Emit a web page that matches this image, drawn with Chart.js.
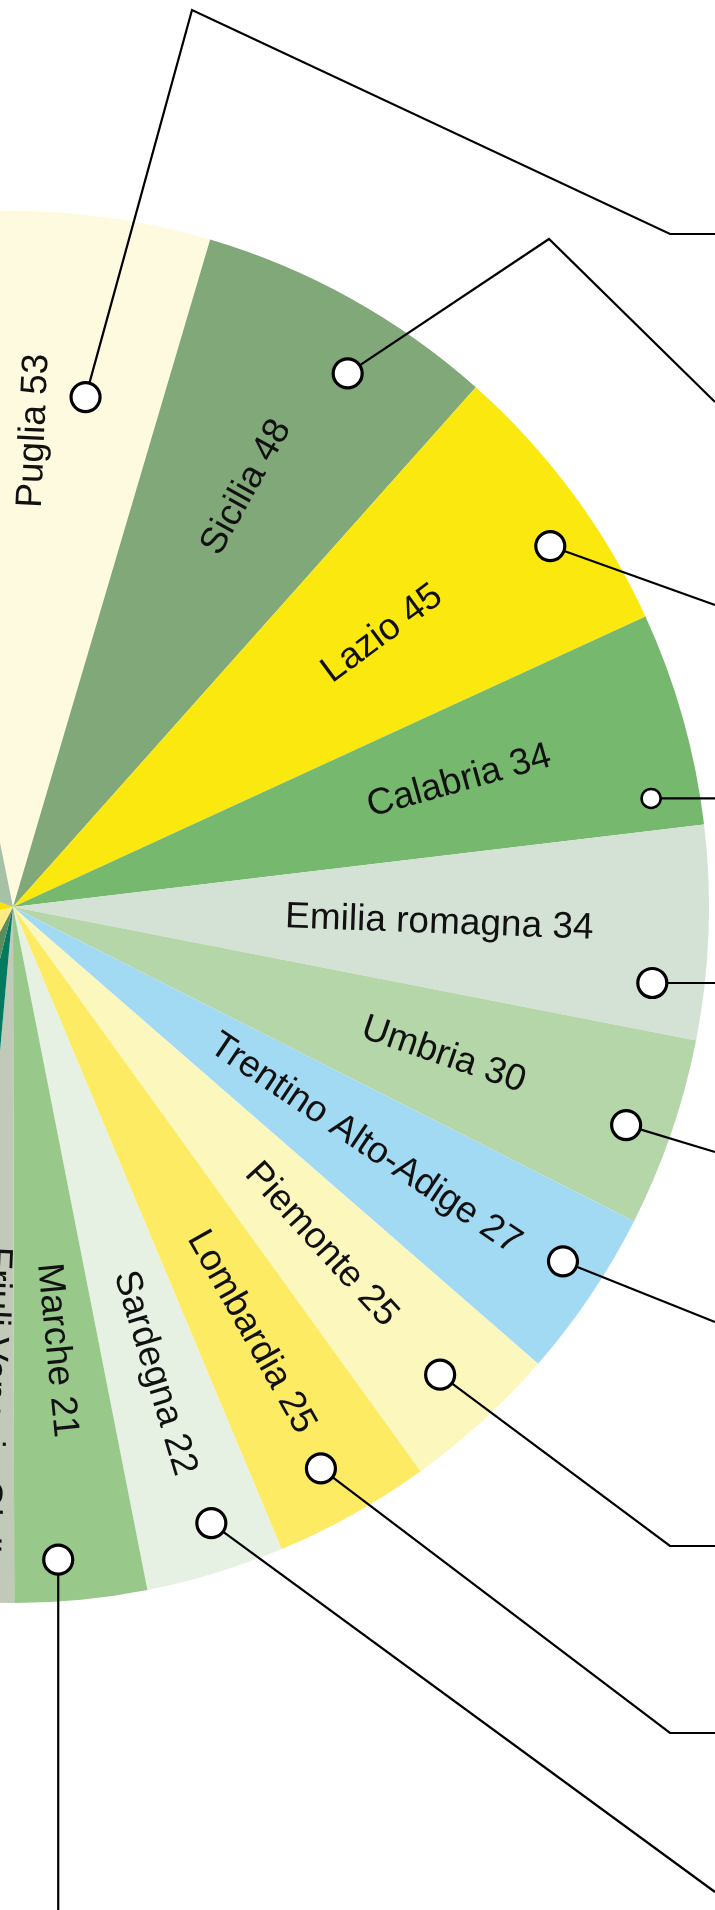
<!DOCTYPE html>
<html><head><meta charset="utf-8">
<script src="https://cdn.jsdelivr.net/npm/chart.js@4.4.0/dist/chart.umd.min.js"></script>
<style>
html,body{margin:0;padding:0;background:#fff;overflow:hidden;width:715px;height:1910px;}
#wrap{position:absolute;left:-894px;top:0;width:1814px;height:1910px;}
</style></head><body>
<div id="wrap"><canvas id="c" width="1814" height="1910"></canvas></div>
<script>
// ---- data ----
const regions = ["Puglia","Sicilia","Lazio","Calabria","Emilia romagna","Umbria","Trentino Alto-Adige","Piemonte","Lombardia","Sardegna","Marche","Friuli Venezia Giulia","","","","",""];
const values  = [53,48,45,34,34,30,27,25,25,22,21,10,17,26,94,63,111];
const colors  = ["#fefae0","#80a878","#fbe80f","#76b96e","#d4e1d5","#b5d6a9","#a3daf3","#fcf7bd","#fdeb63","#e6f0e3","#98c98b","#c1c9b9","#037a5f","#5b8c5c","#fdea85","#fce200","#a6c2a6"];

// ---- layout (annotation placement, not data) ----
const OFFSET_X = 894; // page -> canvas
const labelRadius = [0.685,0.69,0.66,0.666,0.613,0.654,0.61,0.657,0.70,0.70,0.64,0.76];
const leaderAnchor = [[0.70,0.74],[0.62,0.905],[0.61,0.93],[0.84,0.93],[0.76,0.925],[0.54,0.935],[0.42,0.94],[0.50,0.91],[0.54,0.92],[0.42,0.93],[0.65,0.94]];
const leaderRoute = [
  [[192,10],[670,234],[715,234]],
  [[549,239],[715,402]],
  [[715,605]],
  [[715,null]],
  [[715,null]],
  [[715,1152]],
  [[715,1322]],
  [[670,1546],[715,1546]],
  [[670,1733],[715,1733]],
  [[715,1892]],
  [[null,1910]]
];
const dotSize = [14.5,14.5,14.5,9.5,14.5,14.5,14.5,14.5,14.5,14.5,14.5];

const labelPlugin = {
  id:'labels',
  afterDatasetsDraw(chart){
    const ctx = chart.ctx;
    const meta = chart.getDatasetMeta(0);
    ctx.save();
    ctx.font = '37px "Liberation Sans", Arial, sans-serif';
    ctx.fillStyle = '#111';
    ctx.textAlign = 'center';
    ctx.textBaseline = 'middle';
    meta.data.forEach((arc,i)=>{
      if(!regions[i]) return;
      const p = arc.getProps(['x','y','startAngle','endAngle','outerRadius'], true);
      const mid = (p.startAngle+p.endAngle)/2;
      const r = p.outerRadius*labelRadius[i];
      ctx.save();
      ctx.translate(p.x+Math.cos(mid)*r, p.y+Math.sin(mid)*r);
      ctx.rotate(mid);
      ctx.fillText(regions[i]+' '+values[i],0,0);
      ctx.restore();
    });
    // leaders
    const dots = [];
    leaderRoute.forEach((route,i)=>{
      const arc = meta.data[i];
      const p = arc.getProps(['x','y','startAngle','endAngle','outerRadius'], true);
      const a = p.startAngle + leaderAnchor[i][0]*(p.endAngle-p.startAngle);
      const r = p.outerRadius*leaderAnchor[i][1];
      const dx = p.x+Math.cos(a)*r, dy = p.y+Math.sin(a)*r;
      ctx.beginPath();
      ctx.moveTo(dx,dy);
      route.forEach(pt=>{
        const px = pt[0]===null ? dx : pt[0]+OFFSET_X;
        const py = pt[1]===null ? dy : pt[1];
        ctx.lineTo(px,py);
      });
      ctx.lineWidth = 2.2;
      ctx.strokeStyle = '#000';
      ctx.lineJoin = 'miter';
      ctx.stroke();
      dots.push([dx,dy,dotSize[i]]);
    });
    dots.forEach(d=>{
      ctx.beginPath();
      ctx.arc(d[0],d[1],d[2],0,Math.PI*2);
      ctx.fillStyle='#fff';
      ctx.fill();
      ctx.lineWidth = d[2]<12 ? 2.5 : 3.2;
      ctx.strokeStyle='#000';
      ctx.stroke();
    });
    ctx.restore();
  }
};

new Chart(document.getElementById('c'), {
  type:'pie',
  data:{labels:regions, datasets:[{data:values, backgroundColor:colors, borderWidth:0}]},
  options:{
    responsive:false, animation:false,
    rotation:-11.4,
    layout:{padding:{left:211,right:211,top:211,bottom:307}},
    plugins:{legend:{display:false}, tooltip:{enabled:false}}
  },
  plugins:[labelPlugin]
});
</script>
</body></html>
